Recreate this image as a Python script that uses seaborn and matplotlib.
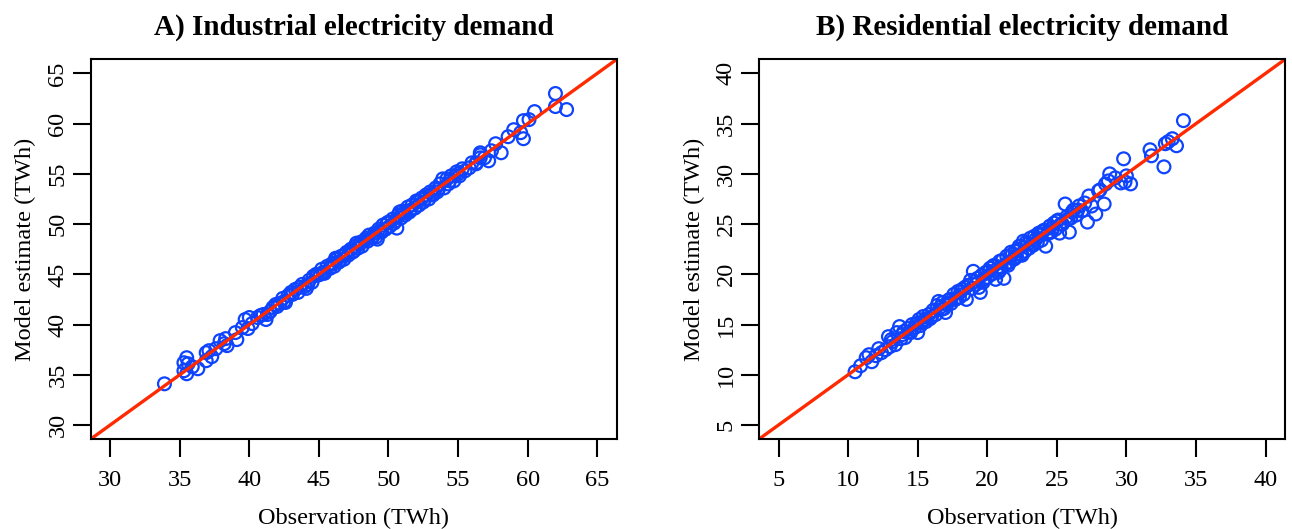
import matplotlib
matplotlib.use("Agg")
import matplotlib.pyplot as plt
import seaborn as sns

# A) industrial demand: observed vs model estimate (TWh)
ind_obs = [33.9, 35.3, 35.5, 35.6, 35.3, 35.5, 36.3, 35.9, 36.9, 37.1,
           36.9, 37.3, 37.6, 37.9, 38.3, 38.4, 38.2, 39.0, 39.1, 39.5,
           39.7, 40.0, 40.2, 39.9, 40.6, 40.8, 41.2, 41.0, 41.5, 41.7,
           41.9, 42.2, 42.4, 42.6, 42.8, 43.1, 43.3, 43.5, 43.8, 44.0,
           44.3, 44.5, 44.6, 44.9, 45.1, 45.2, 45.4, 45.6, 45.8, 46.0,
           46.1, 46.3, 46.5, 46.6, 46.8, 47.0, 47.1, 47.3, 47.5, 47.6,
           47.8, 48.0, 48.1, 48.3, 48.5, 48.6, 48.8, 49.0, 49.1, 49.3,
           49.5, 49.6, 49.8, 49.2, 50.0, 50.1, 50.3, 50.4, 50.6, 50.7,
           50.9, 51.0, 51.2, 51.4, 51.5, 51.7, 51.9, 52.0, 52.2, 52.4,
           52.5, 52.7, 52.9, 53.0, 53.2, 53.4, 53.5, 53.7, 53.9, 54.0,
           54.2, 54.3, 54.5, 54.7, 54.9, 55.1, 55.3, 55.5, 55.8, 56.0,
           56.3, 56.6, 56.3, 56.6, 57.2, 56.6, 57.7, 58.1, 58.6, 59.0,
           59.5, 59.7, 59.7, 60.1, 60.5, 62.0, 62.0, 62.8, 57.4, 56.9,
           42.0, 42.5, 43.0, 43.6, 44.2, 44.8, 45.3, 45.9, 46.4, 46.9,
           47.4, 47.9, 48.4, 48.9, 49.4, 49.9, 50.5, 51.1, 51.6, 52.1,
           52.6, 53.1, 53.6, 54.4, 55.0, 47.7, 46.2, 44.1, 50.8, 41.3]
ind_est = [34.1, 36.2, 36.7, 36.1, 35.4, 35.1, 35.6, 35.8, 37.2, 37.4,
           36.4, 36.8, 37.6, 38.4, 38.6, 37.9, 38.1, 39.2, 38.5, 39.7,
           40.5, 40.7, 40.1, 39.6, 40.7, 40.9, 40.5, 41.0, 41.3, 41.7,
           42.0, 42.1, 42.6, 42.2, 42.9, 43.0, 43.5, 43.2, 44.0, 43.8,
           44.4, 44.2, 44.8, 44.9, 45.0, 45.5, 45.1, 45.8, 45.6, 46.1,
           45.8, 46.5, 46.3, 46.8, 46.5, 47.2, 46.9, 47.5, 47.3, 47.8,
           47.6, 48.2, 47.8, 48.4, 48.3, 48.9, 48.6, 49.1, 48.7, 49.5,
           49.2, 49.9, 49.5, 48.5, 50.2, 49.8, 50.5, 50.1, 49.6, 50.9,
           50.6, 51.3, 50.9, 51.7, 51.2, 51.9, 51.6, 52.3, 51.9, 52.6,
           52.2, 52.9, 52.5, 53.2, 52.9, 53.6, 53.2, 54.0, 54.5, 53.6,
           54.5, 54.0, 54.8, 54.3, 55.2, 54.8, 55.5, 55.3, 55.6, 56.1,
           56.0, 56.9, 56.1, 56.6, 56.3, 57.1, 58.0, 57.1, 58.7, 59.4,
           59.1, 58.5, 60.3, 60.4, 61.2, 63.0, 61.7, 61.4, 57.3, 56.6,
           41.8, 42.3, 43.2, 43.7, 44.0, 45.0, 45.2, 46.0, 46.2, 47.0,
           47.2, 48.0, 48.6, 48.8, 49.3, 50.1, 50.3, 51.1, 51.4, 52.2,
           52.5, 53.0, 53.5, 54.3, 55.0, 48.1, 46.6, 43.6, 51.2, 41.0]

# B) residential demand: observed vs model estimate (TWh)
res_obs = [10.5, 10.9, 11.3, 11.7, 11.5, 12.0, 12.4, 12.2, 12.7, 12.9,
           13.0, 13.2, 13.4, 13.5, 13.7, 13.8, 14.0, 14.1, 14.3, 14.5,
           14.6, 14.8, 15.0, 15.1, 15.3, 15.4, 15.6, 15.8, 15.9, 16.1,
           16.3, 16.4, 16.5, 16.7, 16.8, 17.0, 17.1, 17.3, 17.4, 17.6,
           17.7, 17.9, 18.0, 18.2, 18.3, 18.5, 18.6, 18.8, 18.9, 19.0,
           19.2, 19.3, 19.5, 19.6, 19.8, 19.9, 20.0, 20.2, 20.3, 20.5,
           20.6, 20.7, 20.9, 21.0, 21.2, 21.3, 21.4, 21.6, 21.7, 21.9,
           22.0, 22.1, 22.3, 22.4, 22.6, 22.7, 22.9, 23.0, 23.1, 23.3,
           23.4, 23.6, 23.7, 23.9, 24.0, 24.2, 24.3, 24.5, 24.6, 24.8,
           24.9, 25.1, 25.2, 25.4, 25.6, 25.7, 25.9, 26.0, 26.2, 26.4,
           26.6, 26.8, 27.0, 27.2, 27.3, 27.5, 27.8, 28.0, 28.1, 28.4,
           28.5, 28.7, 28.8, 29.2, 29.6, 29.8, 30.0, 30.3, 29.9, 31.7,
           31.8, 32.7, 32.8, 33.3, 33.6, 33.0, 34.1,
           13.1, 13.9, 14.4, 14.9, 15.5, 16.0, 16.6, 17.2, 17.8, 18.4,
           19.1, 19.7, 20.1, 20.4, 20.8, 21.1, 21.5, 21.8, 22.2, 22.5,
           22.8, 23.2, 23.5, 23.8, 24.1, 24.4, 24.7, 25.0, 25.3, 25.8,
           26.1, 26.5, 19.4, 20.9, 22.0, 18.1, 16.9, 15.2]
res_est = [10.3, 10.9, 11.7, 11.3, 12.0, 11.9, 12.2, 12.6, 12.5, 13.8,
           12.8, 13.3, 13.0, 14.2, 14.8, 13.6, 14.3, 13.7, 14.6, 14.2,
           15.0, 14.7, 14.2, 15.5, 15.2, 15.8, 15.3, 16.0, 15.6, 16.4,
           16.0, 16.9, 17.3, 16.5, 17.2, 16.2, 17.0, 17.5, 17.1, 18.0,
           17.5, 18.3, 17.7, 18.5, 18.0, 17.5, 18.9, 19.4, 18.6, 20.3,
           19.0, 19.6, 18.2, 19.9, 19.5, 20.2, 19.7, 20.6, 20.0, 20.9,
           19.5, 20.5, 21.3, 20.7, 19.6, 21.0, 21.8, 21.2, 22.2, 21.5,
           22.3, 21.8, 22.8, 22.0, 23.3, 22.3, 23.0, 22.6, 23.6, 22.9,
           23.8, 23.2, 24.1, 23.4, 24.3, 22.8, 24.0, 24.8, 24.2, 25.1,
           24.5, 25.4, 24.1, 25.0, 27.0, 25.7, 24.2, 25.6, 26.4, 25.9,
           26.8, 26.3, 27.1, 25.2, 27.8, 26.8, 26.0, 28.3, 28.4, 27.0,
           29.0, 29.3, 30.0, 29.6, 29.1, 31.5, 29.8, 29.0, 29.2, 32.4,
           31.8, 30.7, 33.0, 33.5, 32.8, 33.2, 35.3,
           13.5, 14.0, 14.3, 15.1, 15.5, 15.8, 16.7, 17.4, 17.6, 18.7,
           19.3, 19.2, 20.3, 20.8, 20.2, 21.4, 20.9, 22.0, 22.5, 21.9,
           23.2, 23.0, 23.5, 23.9, 24.4, 24.2, 24.6, 25.3, 25.0, 25.5,
           26.2, 26.4, 18.7, 20.4, 21.6, 18.3, 16.6, 14.9]

titles = ["A) Industrial electricity demand", "B) Residential electricity demand"]
ticks_a = [30, 35, 40, 45, 50, 55, 60, 65]
ticks_b = [5, 10, 15, 20, 25, 30, 35, 40]

sns.set_theme(style="ticks")
plt.rcParams["font.family"] = ["Liberation Serif", "DejaVu Serif"]
plt.rcParams["text.color"] = "black"
plt.rcParams["axes.labelcolor"] = "black"

blue = "#0F44FF"
red = "#FF2A00"

fig = plt.figure(figsize=(12.92, 5.29), dpi=100)
ax1 = fig.add_axes([0.0702, 0.170, 0.4071, 0.7178])
ax2 = fig.add_axes([0.5875, 0.170, 0.4071, 0.7178])

panels = [
    (ax1, ind_obs, ind_est, ticks_a, (28.6, 66.4), titles[0]),
    (ax2, res_obs, res_est, ticks_b, (3.6, 41.4), titles[1]),
]

for ax, obs, est, ticks, lims, title in panels:
    sns.scatterplot(x=obs, y=est, ax=ax, marker="o", s=85,
                    facecolor="none", edgecolor=blue, linewidth=1.6)
    ax.axline((lims[0], lims[0]), slope=1, color=red, lw=2.4)
    ax.set_xlim(lims)
    ax.set_ylim(lims)
    ax.set_xticks(ticks)
    ax.set_yticks(ticks)
    ax.tick_params(axis="both", direction="out", length=13, width=1.5,
                   labelsize=17.5, color="black", labelcolor="black")
    ax.tick_params(axis="x", pad=9.5)
    ax.tick_params(axis="y", pad=3)
    for lab in ax.get_yticklabels():
        lab.set_rotation(90)
        lab.set_va("center")
    for sp in ax.spines.values():
        sp.set_visible(True)
        sp.set_linewidth(1.5)
        sp.set_color("black")
    ax.set_xlabel("Observation (TWh)", fontsize=17.5, labelpad=12)
    ax.set_ylabel("Model estimate (TWh)", fontsize=17.5, labelpad=8)
    ax.set_title(title, fontsize=21, fontweight="bold", pad=18, color="black")

fig.savefig("out.png", dpi=100)
